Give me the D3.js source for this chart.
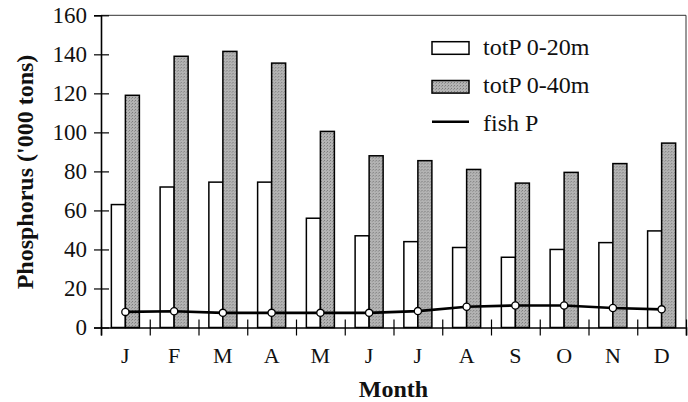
<!DOCTYPE html>
<html>
<head>
<meta charset="utf-8">
<script src="https://cdn.jsdelivr.net/npm/d3@7"></script>
<style>
  html, body { margin: 0; padding: 0; background: #fff; }
  svg { display: block; }
  svg text { font-family: "Liberation Serif", "Times New Roman", serif !important; }
</style>
</head>
<body>
<svg id="chart" width="688" height="402"></svg>
<script>
// Monthly phosphorus stock, thousand tonnes
const months = ["J", "F", "M", "A", "M", "J", "J", "A", "S", "O", "N", "D"];
const totP20 = [63, 72, 74.5, 74.5, 56, 47, 44, 41, 36, 40, 43.5, 49.5];
const totP40 = [119, 139, 141.5, 135.5, 100.5, 88, 85.5, 81, 74, 79.5, 84, 94.5];
const fishP = [8, 8.3, 7.5, 7.5, 7.5, 7.5, 8.4, 10.6, 11.3, 11.3, 10, 9.3];
const yTicks = [0, 20, 40, 60, 80, 100, 120, 140, 160];
const legendLabels = ["totP 0-20m", "totP 0-40m", "fish P"];

const svg = d3.select("#chart");
const plotLeft = 101, plotRight = 686, plotTop = 15.3, plotBottom = 327.5;

const y = d3.scaleLinear().domain([0, 160]).range([plotBottom, plotTop]);
const x = d3.scaleBand().domain(d3.range(months.length)).range([plotLeft, plotRight]);
const xs = d3.scaleBand().domain(["p20", "p40"]).range([0, x.bandwidth()]).paddingOuter(0.74);
const xEdge = d3.scaleLinear().domain([0, months.length]).range([plotLeft, plotRight]);

// stippled grey fill for the deeper layer
const defs = svg.append("defs");
const pat = defs.append("pattern").attr("id", "stipple")
  .attr("width", 3).attr("height", 3).attr("patternUnits", "userSpaceOnUse");
pat.append("rect").attr("width", 3).attr("height", 3).attr("fill", "#b3b3b3");
pat.append("rect").attr("x", 1).attr("y", 1).attr("width", 1).attr("height", 1).attr("fill", "#7d7d7d");
pat.append("rect").attr("x", 0).attr("y", 2).attr("width", 1).attr("height", 1).attr("fill", "#959595");

// frame: top and right edges
svg.append("path")
  .attr("d", `M${plotLeft},${plotTop}H${plotRight}V${plotBottom}`)
  .attr("fill", "none").attr("stroke", "#333").attr("stroke-width", 1);

// bars
const groups = svg.append("g").selectAll("g")
  .data(d3.range(months.length)).join("g")
  .attr("transform", i => `translate(${x(i)},0)`);

groups.append("rect")
  .attr("x", xs("p20")).attr("width", xs.bandwidth())
  .attr("y", i => y(totP20[i])).attr("height", i => y(0) - y(totP20[i]))
  .attr("fill", "#fff").attr("stroke", "#000").attr("stroke-width", 1.5);

groups.append("rect")
  .attr("x", xs("p40")).attr("width", xs.bandwidth())
  .attr("y", i => y(totP40[i])).attr("height", i => y(0) - y(totP40[i]))
  .attr("fill", "url(#stipple)").attr("stroke", "#000").attr("stroke-width", 1.5);

// y axis with ticks crossing the line
const yAxis = svg.append("g").attr("transform", `translate(${plotLeft},0)`)
  .call(d3.axisLeft(y).tickValues(yTicks).tickSize(7).tickPadding(7));
yAxis.select(".domain").attr("stroke-width", 1.6);
yAxis.selectAll(".tick line").attr("x2", -7).attr("x1", 8).attr("stroke-width", 1.2);
yAxis.selectAll(".tick text").attr("font-size", 23).attr("fill", "#111");

// x axis: ticks on month boundaries
const xTicksG = svg.append("g").attr("transform", `translate(0,${plotBottom})`)
  .call(d3.axisBottom(xEdge).tickValues(d3.range(months.length + 1)).tickFormat("").tickSize(8));
xTicksG.select(".domain").attr("stroke-width", 1.6);
xTicksG.selectAll(".tick line").attr("y1", -8).attr("stroke-width", 1.2);

// month labels centred in each band
const xLab = svg.append("g").attr("transform", `translate(0,${plotBottom})`)
  .call(d3.axisBottom(x).tickSize(0).tickFormat(i => months[i]));
xLab.select(".domain").remove();
xLab.selectAll(".tick text").attr("dy", null).attr("y", 35)
  .attr("font-size", 22).attr("fill", "#111");

// fish P line with open markers
const line = d3.line().x((d, i) => x(i) + x.bandwidth() / 2).y(d => y(d));
svg.append("path").datum(fishP)
  .attr("d", line).attr("fill", "none").attr("stroke", "#000").attr("stroke-width", 2.6);
svg.append("g").selectAll("circle").data(fishP).join("circle")
  .attr("cx", (d, i) => x(i) + x.bandwidth() / 2).attr("cy", d => y(d))
  .attr("r", 3.6).attr("fill", "#fff").attr("stroke", "#000").attr("stroke-width", 1.3);

// legend
const lg = svg.append("g");
const lx = 432, lw = 37;
lg.append("rect").attr("x", lx).attr("y", 41.7).attr("width", lw).attr("height", 12.6)
  .attr("fill", "#fff").attr("stroke", "#000").attr("stroke-width", 1.5);
lg.append("rect").attr("x", lx).attr("y", 80.5).attr("width", lw).attr("height", 12.6)
  .attr("fill", "url(#stipple)").attr("stroke", "#000").attr("stroke-width", 1.5);
lg.append("line").attr("x1", lx).attr("x2", lx + lw).attr("y1", 121.7).attr("y2", 121.7)
  .attr("stroke", "#000").attr("stroke-width", 2.6);
lg.selectAll("text").data(legendLabels).join("text")
  .attr("x", 483).attr("y", (d, i) => 55 + i * 38)
  .attr("font-size", 24).attr("fill", "#111").text(d => d);

// axis titles
svg.append("text")
  .attr("transform", "translate(33,172) rotate(-90)")
  .attr("text-anchor", "middle").attr("font-weight", "bold").attr("font-size", 24)
  .attr("fill", "#111").text("Phosphorus ('000 tons)");
svg.append("text")
  .attr("x", (plotLeft + plotRight) / 2).attr("y", 396.5)
  .attr("text-anchor", "middle").attr("font-weight", "bold").attr("font-size", 24)
  .attr("fill", "#111").text("Month");
</script>
</body>
</html>
